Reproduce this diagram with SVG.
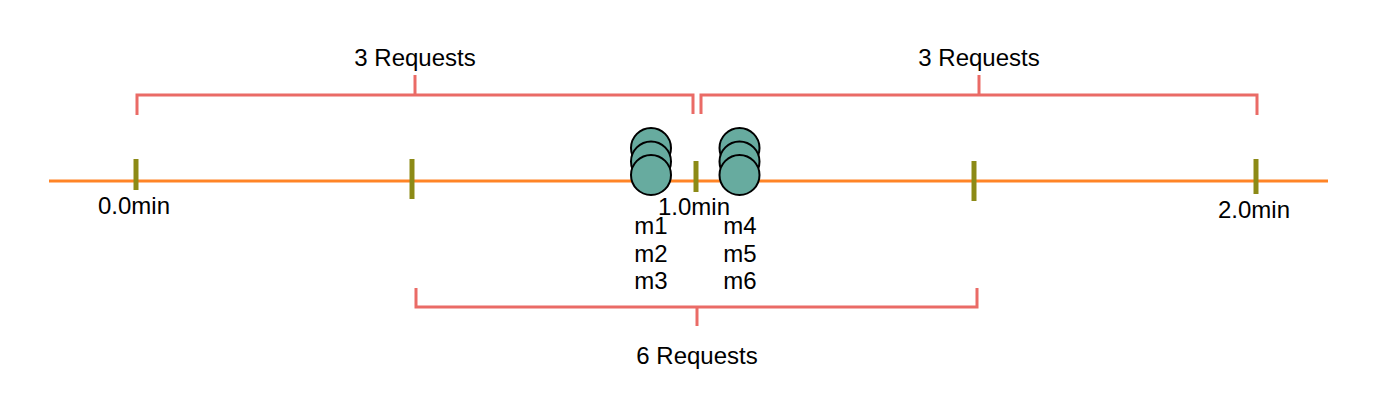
<svg xmlns="http://www.w3.org/2000/svg" width="1394" height="416" viewBox="0 0 1394 416">
<style>
.axis{stroke:#ff8426;stroke-width:3;fill:none}
.tick{stroke:#8c8a16;stroke-width:5;fill:none}
.br{stroke:#ea6b66;stroke-width:3;fill:none;stroke-linejoin:miter;stroke-linecap:butt}
.msg{fill:#67ab9f;stroke:#000;stroke-width:2}
text{font-family:"Liberation Sans",Arial,sans-serif;font-size:24px;fill:#000;text-anchor:middle}
</style>
<rect width="1394" height="416" fill="#fff"/>
<g id="connectors">
<line class="axis" x1="49" y1="181" x2="1328" y2="181"/>
</g>
<g id="ticks">
<line class="tick" x1="136" y1="159" x2="136" y2="190"/>
<line class="tick" x1="412" y1="159" x2="412" y2="199"/>
<line class="tick" x1="696" y1="161" x2="696" y2="192"/>
<line class="tick" x1="974" y1="161" x2="974" y2="201"/>
<line class="tick" x1="1256" y1="159" x2="1256" y2="194"/>
</g>
<g id="tick-labels">
<text x="134" y="214">0.0min</text>
<text x="694" y="215">1.0min</text>
<text x="1254" y="218">2.0min</text>
</g>
<g id="bracket-left">
<path class="br" d="M137,115 V95 H693 V114"/>
<line class="br" x1="415" y1="75" x2="415" y2="95"/>
<text x="415" y="66">3 Requests</text>
</g>
<g id="bracket-right">
<path class="br" d="M701,114 V95 H1257 V115"/>
<line class="br" x1="979" y1="75" x2="979" y2="95"/>
<text x="979" y="66">3 Requests</text>
</g>
<g id="bracket-bottom">
<path class="br" d="M416,288 V307 H977 V288"/>
<line class="br" x1="697" y1="307" x2="697" y2="326"/>
<text x="697" y="364">6 Requests</text>
</g>
<g id="messages-left">
<circle class="msg" cx="651" cy="148" r="20"/>
<circle class="msg" cx="651" cy="161.5" r="20"/>
<circle class="msg" cx="651" cy="175" r="20"/>
<text x="651" y="234">m1</text>
<text x="651" y="262">m2</text>
<text x="651" y="289">m3</text>
</g>
<g id="messages-right">
<circle class="msg" cx="739.5" cy="148" r="20"/>
<circle class="msg" cx="739.5" cy="161.5" r="20"/>
<circle class="msg" cx="739.5" cy="175" r="20"/>
<text x="740" y="234">m4</text>
<text x="740" y="262">m5</text>
<text x="740" y="289">m6</text>
</g>
</svg>
